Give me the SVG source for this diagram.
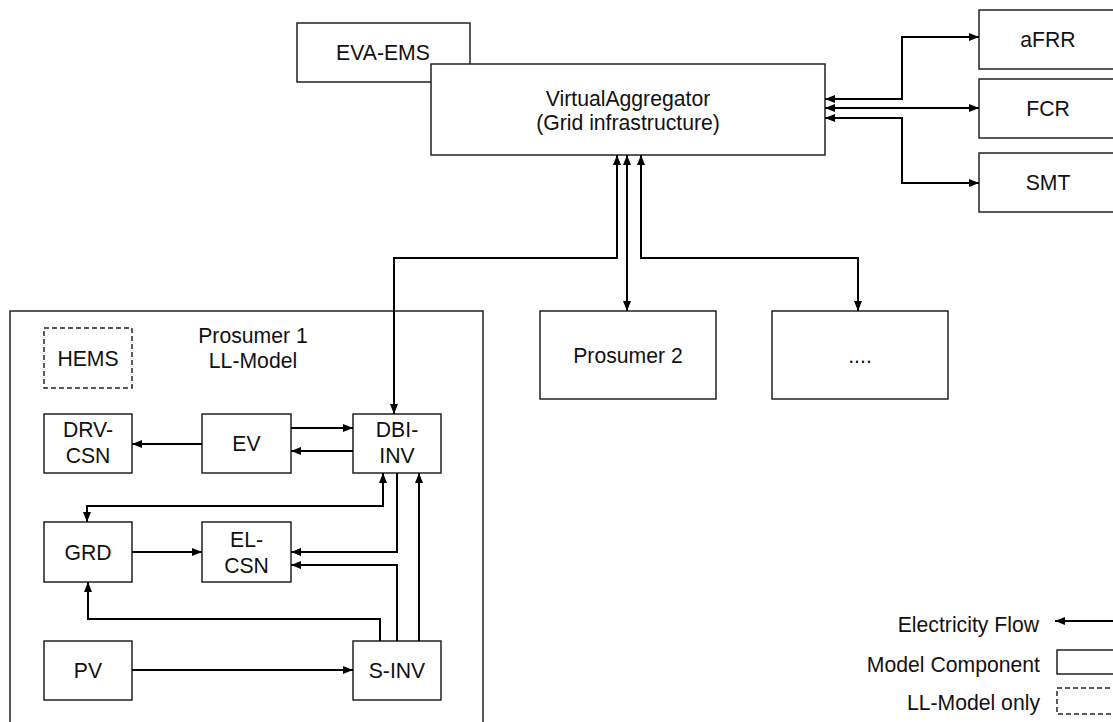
<svg xmlns="http://www.w3.org/2000/svg" width="1113" height="722" viewBox="0 0 1113 722">
<defs>
<marker id="arr" markerUnits="userSpaceOnUse" markerWidth="10" markerHeight="8" refX="10" refY="4" orient="auto-start-reverse" viewBox="0 0 10 8">
<path d="M0,0 L10,4 L0,8 z" fill="#000"/>
</marker>
<style>
.box{fill:#fff;stroke:#222;stroke-width:1.5}
.dash{fill:#fff;stroke:#222;stroke-width:1.5;stroke-dasharray:5,3}
.t{font-family:"Liberation Sans",Arial,sans-serif;font-size:21.2px;fill:#111;text-anchor:middle}
.l{font-family:"Liberation Sans",Arial,sans-serif;font-size:21.2px;fill:#111;text-anchor:end}
.c{fill:none;stroke:#000;stroke-width:2}
.one{marker-end:url(#arr)}
.two{marker-start:url(#arr);marker-end:url(#arr)}
</style>
</defs>
<rect width="1113" height="722" fill="#fff"/>
<g id="prosumer1">
<rect class="box" x="10" y="311" width="473" height="420"/>
<text class="t" x="253" y="343">Prosumer 1</text>
<text class="t" x="253" y="368">LL-Model</text>
</g>
<g id="eva-ems"><rect class="box" x="297" y="23" width="173" height="59"/><text class="t" x="383" y="60">EVA-EMS</text></g>
<g id="va"><rect class="box" x="431" y="64" width="394" height="91"/><text class="t" x="628" y="106">VirtualAggregator</text><text class="t" x="628" y="130">(Grid infrastructure)</text></g>
<g id="afrr"><rect class="box" x="979" y="10" width="140" height="59"/><text class="t" x="1048" y="47">aFRR</text></g>
<g id="fcr"><rect class="box" x="979" y="79" width="140" height="59"/><text class="t" x="1048" y="116">FCR</text></g>
<g id="smt"><rect class="box" x="979" y="153" width="140" height="59"/><text class="t" x="1048" y="190">SMT</text></g>
<g id="prosumer2"><rect class="box" x="540" y="311" width="176" height="88"/><text class="t" x="628" y="363">Prosumer 2</text></g>
<g id="more"><rect class="box" x="772" y="311" width="176" height="88"/><text class="t" x="860" y="363">....</text></g>
<g id="hems"><rect class="dash" x="44" y="328" width="88" height="60"/><text class="t" x="88" y="366">HEMS</text></g>
<g id="drv-csn"><rect class="box" x="44" y="414" width="88" height="59"/><text class="t" x="88" y="437">DRV-</text><text class="t" x="88" y="463">CSN</text></g>
<g id="ev"><rect class="box" x="202" y="414" width="89" height="59"/><text class="t" x="246.5" y="451">EV</text></g>
<g id="dbi-inv"><rect class="box" x="353" y="414" width="88" height="59"/><text class="t" x="397" y="437">DBI-</text><text class="t" x="397" y="463">INV</text></g>
<g id="grd"><rect class="box" x="44" y="522" width="88" height="60"/><text class="t" x="88" y="560">GRD</text></g>
<g id="el-csn"><rect class="box" x="202" y="522" width="89" height="60"/><text class="t" x="246.5" y="547">EL-</text><text class="t" x="246.5" y="573">CSN</text></g>
<g id="pv"><rect class="box" x="44" y="641" width="88" height="59"/><text class="t" x="88" y="678">PV</text></g>
<g id="s-inv"><rect class="box" x="353" y="641" width="88" height="59"/><text class="t" x="397" y="678">S-INV</text></g>
<g id="connectors">
<path class="c two" d="M825,99 H902 V37 H979"/>
<path class="c two" d="M825,108 H979"/>
<path class="c two" d="M825,118 H902 V183 H979"/>
<path class="c two" d="M394,414 V258 H617 V155"/>
<path class="c two" d="M627,155 V311"/>
<path class="c two" d="M641,155 V258 H858 V311"/>
<path class="c one" d="M202,444 H132"/>
<path class="c one" d="M291,428 H353"/>
<path class="c one" d="M353,451 H291"/>
<path class="c two" d="M383,473 V506 H87 V522"/>
<path class="c one" d="M397,473 V552 H291"/>
<path class="c one" d="M397,641 V565 H291"/>
<path class="c one" d="M419,641 V473"/>
<path class="c one" d="M380,641 V619 H88 V582"/>
<path class="c one" d="M132,552 H202"/>
<path class="c one" d="M132,670 H353"/>
</g>
<g id="legend">
<text class="l" x="1039" y="632">Electricity Flow</text>
<path class="c one" d="M1120,621 H1055"/>
<text class="l" x="1040" y="672">Model Component</text>
<rect class="box" x="1057" y="650" width="70" height="24"/>
<text class="l" x="1040" y="710">LL-Model only</text>
<rect class="dash" x="1057" y="688" width="70" height="26"/>
</g>
</svg>
